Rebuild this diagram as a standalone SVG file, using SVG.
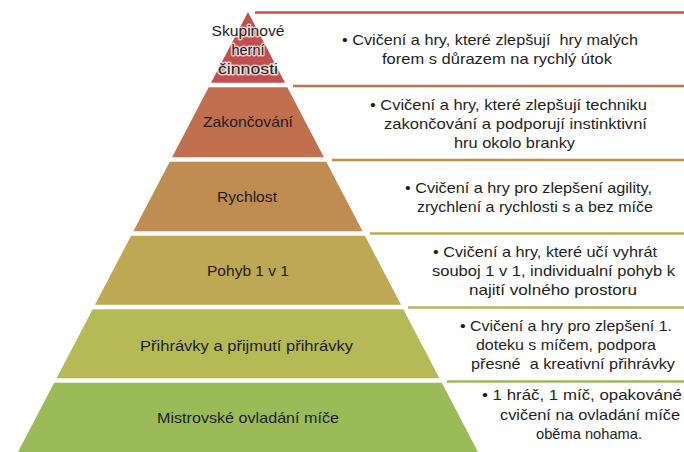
<svg xmlns="http://www.w3.org/2000/svg" width="684" height="452" viewBox="0 0 684 452">
<style>
.lbl{font-family:"Liberation Sans",Arial,sans-serif;font-size:14.5px;fill:#1e1e1e;text-anchor:middle}
.txt{font-family:"Liberation Sans",Arial,sans-serif;font-size:14.5px;fill:#1e1e1e;white-space:pre}
.glow{paint-order:stroke;stroke:#ffffff;stroke-opacity:0.7;stroke-width:3px;stroke-linejoin:round}
.sep{stroke-width:2.5;fill:none}
</style>
<rect width="684" height="452" fill="#ffffff"/>
<g id="connectors">
<line class="sep" x1="255" y1="12.5" x2="684" y2="12.5" stroke="#C0504D"/>
<line class="sep" x1="293" y1="86" x2="684" y2="86" stroke="#C0704F"/>
<line class="sep" x1="332" y1="160" x2="684" y2="160" stroke="#BF8C51"/>
<line class="sep" x1="370" y1="233.5" x2="684" y2="233.5" stroke="#BEA853"/>
<line class="sep" x1="408" y1="307.5" x2="684" y2="307.5" stroke="#B5BA57"/>
<line class="sep" x1="447" y1="381.5" x2="684" y2="381.5" stroke="#9BBB59"/>
</g>
<g id="layer1">
<polygon points="248,12 285,82.75 211,82.75" fill="#C0504D"/>
<text class="lbl glow" x="248" y="36" textLength="73" lengthAdjust="spacingAndGlyphs">Skupinové</text>
<text class="lbl glow" x="248" y="55">herní</text>
<text class="lbl glow" x="248" y="74" textLength="60" lengthAdjust="spacingAndGlyphs">činnosti</text>
</g>
<g id="layer2">
<polygon points="208.67,87.25 287.33,87.25 323.92,157.25 172.08,157.25" fill="#C0704F"/>
<text class="lbl" x="248" y="127" textLength="90" lengthAdjust="spacingAndGlyphs">Zakončování</text>
</g>
<g id="layer3">
<polygon points="169.73,161.75 326.27,161.75 362.6,231.25 133.4,231.25" fill="#BF8C51"/>
<text class="lbl" x="247" y="202" textLength="60" lengthAdjust="spacingAndGlyphs">Rychlost</text>
</g>
<g id="layer4">
<polygon points="131.05,235.75 364.95,235.75 401.02,304.75 94.98,304.75" fill="#BEA853"/>
<text class="lbl" x="248" y="276" textLength="82" lengthAdjust="spacingAndGlyphs">Pohyb 1 v 1</text>
</g>
<g id="layer5">
<polygon points="92.63,309.25 403.37,309.25 439.44,378.25 56.56,378.25" fill="#B5BA57"/>
<text class="lbl" x="246.5" y="351" textLength="213" lengthAdjust="spacingAndGlyphs">Přihrávky a přijmutí přihrávky</text>
</g>
<g id="layer6">
<polygon points="54.21,382.75 441.79,382.75 478,452 18,452" fill="#9BBB59"/>
<text class="lbl" x="248" y="423" textLength="182" lengthAdjust="spacingAndGlyphs">Mistrovské ovladání míče</text>
</g>
<g id="desc1">
<text class="txt" xml:space="preserve" x="342" y="44.5" textLength="296" lengthAdjust="spacingAndGlyphs">• Cvičení a hry, které zlepšují  hry malých</text>
<text class="txt" x="382" y="64" textLength="230" lengthAdjust="spacingAndGlyphs">forem s důrazem na rychlý útok</text>
</g>
<g id="desc2">
<text class="txt" x="370" y="109.5" textLength="277" lengthAdjust="spacingAndGlyphs">• Cvičení a hry, které zlepšují techniku</text>
<text class="txt" x="384" y="129" textLength="263" lengthAdjust="spacingAndGlyphs">zakončování a podporují instinktivní</text>
<text class="txt" x="454" y="148" textLength="121" lengthAdjust="spacingAndGlyphs">hru okolo branky</text>
</g>
<g id="desc3">
<text class="txt" x="405" y="192.5" textLength="247" lengthAdjust="spacingAndGlyphs">• Cvičení a hry pro zlepšení agility,</text>
<text class="txt" x="417" y="212" textLength="236" lengthAdjust="spacingAndGlyphs">zrychlení a rychlosti s a bez míče</text>
</g>
<g id="desc4">
<text class="txt" x="433" y="256.5" textLength="224" lengthAdjust="spacingAndGlyphs">• Cvičení a hry, které učí vyhrát</text>
<text class="txt" x="432" y="276" textLength="243" lengthAdjust="spacingAndGlyphs">souboj 1 v 1, individualní pohyb k</text>
<text class="txt" x="469" y="295" textLength="168" lengthAdjust="spacingAndGlyphs">najití volného prostoru</text>
</g>
<g id="desc5">
<text class="txt" x="460" y="331" textLength="212" lengthAdjust="spacingAndGlyphs">• Cvičení a hry pro zlepšení 1.</text>
<text class="txt" x="476" y="350" textLength="180" lengthAdjust="spacingAndGlyphs">doteku s míčem, podpora</text>
<text class="txt" xml:space="preserve" x="471" y="368.5" textLength="204" lengthAdjust="spacingAndGlyphs">přesné  a kreativní přihrávky</text>
</g>
<g id="desc6">
<text class="txt" x="482" y="400" textLength="200" lengthAdjust="spacingAndGlyphs">• 1 hráč, 1 míč, opakováné</text>
<text class="txt" x="500" y="419.5" textLength="180" lengthAdjust="spacingAndGlyphs">cvičení na ovladání míče</text>
<text class="txt" x="536" y="438.5" textLength="106" lengthAdjust="spacingAndGlyphs">oběma nohama.</text>
</g>
</svg>
